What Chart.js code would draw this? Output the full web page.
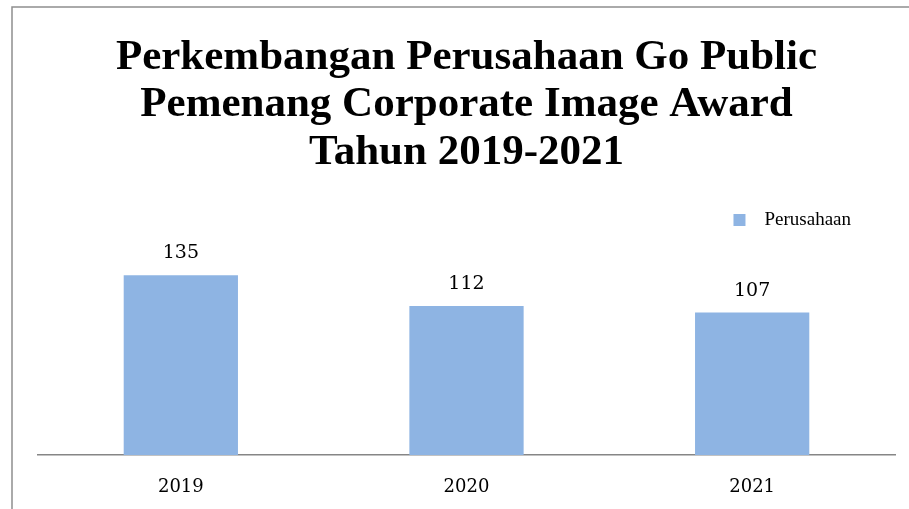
<!DOCTYPE html>
<html>
<head>
<meta charset="utf-8">
<script src="https://cdn.jsdelivr.net/npm/chart.js@4/dist/chart.umd.min.js"></script>
<style>
  html, body { margin: 0; padding: 0; background: #ffffff; }
  #wrap { position: relative; width: 909px; height: 509px; }
</style>
</head>
<body>
<div id="wrap"><canvas id="c" width="909" height="509"></canvas></div>
<script>
const titleLines = ['Perkembangan Perusahaan Go Public', 'Pemenang Corporate Image Award', 'Tahun 2019-2021'];
const categories = ['2019', '2020', '2021'];
const seriesName = 'Perusahaan';
const seriesValues = [135, 112, 107];

const frame = {
  id: 'frame',
  beforeDraw(chart) {
    const ctx = chart.ctx;
    ctx.save();
    ctx.fillStyle = '#ffffff';
    ctx.fillRect(0, 0, chart.width, chart.height);
    ctx.strokeStyle = '#8f8f8f';
    ctx.lineWidth = 1.5;
    ctx.beginPath();
    ctx.moveTo(12, chart.height);
    ctx.lineTo(12, 7);
    ctx.lineTo(chart.width, 7);
    ctx.stroke();
    ctx.restore();
  }
};

const valueLabels = {
  id: 'valueLabels',
  afterDatasetsDraw(chart) {
    const ctx = chart.ctx;
    const meta = chart.getDatasetMeta(0);
    ctx.save();
    ctx.font = '19px "DejaVu Serif"';
    ctx.fillStyle = '#000000';
    ctx.textAlign = 'center';
    ctx.textBaseline = 'alphabetic';
    meta.data.forEach((bar, i) => {
      ctx.fillText(String(chart.data.datasets[0].data[i]), bar.x, bar.y - 17);
    });
    ctx.restore();
  }
};

new Chart(document.getElementById('c'), {
  type: 'bar',
  data: {
    labels: categories,
    datasets: [{
      label: seriesName,
      data: seriesValues,
      backgroundColor: '#8eb4e3',
      borderWidth: 0,
      categoryPercentage: 1.0,
      barPercentage: 0.4
    }]
  },
  options: {
    responsive: false,
    animation: false,
    devicePixelRatio: 1,
    layout: { padding: { left: 38, right: 14, top: 0, bottom: 10 } },
    plugins: {
      title: {
        display: true,
        text: titleLines,
        color: '#000000',
        font: { family: '"Liberation Serif", "Times New Roman", serif', weight: 'bold', size: 43, lineHeight: 1.105 },
        padding: { top: 34, bottom: -10 }
      },
      legend: {
        display: true,
        position: 'top',
        align: 'end',
        labels: {
          color: '#000000',
          font: { family: '"Liberation Serif", "Times New Roman", serif', size: 19 },
          boxWidth: 12,
          boxHeight: 12,
          padding: 44,
          generateLabels(chart) {
            const ds = chart.data.datasets[0];
            return [{ text: '  ' + ds.label, fillStyle: ds.backgroundColor, strokeStyle: ds.backgroundColor, lineWidth: 0, datasetIndex: 0 }];
          }
        }
      },
      tooltip: { enabled: false }
    },
    scales: {
      x: {
        grid: { display: false, drawTicks: false },
        border: { display: true, color: '#868686', width: 1.5 },
        ticks: { color: '#000000', font: { family: '"DejaVu Serif", serif', size: 18 }, padding: 22 },
        afterFit(scale) { scale.height = 44; }
      },
      y: {
        display: false,
        min: 0,
        max: 161.9
      }
    }
  },
  plugins: [frame, valueLabels]
});
</script>
</body>
</html>
